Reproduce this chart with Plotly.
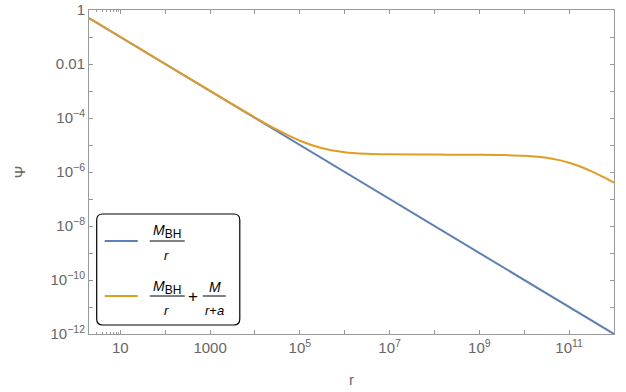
import plotly.graph_objects as go

# ---------------- data ----------------
r_blue = [2, 10, 1e2, 1e3, 1e4, 1e5, 1e6, 1e7, 1e8, 1e9, 1e10, 1e11, 1e12]
psi_blue = [0.5, 0.1, 1e-2, 1e-3, 1e-4, 1e-5, 1e-6, 1e-7, 1e-8, 1e-9, 1e-10, 1e-11, 1e-12]

r_orange = [2, 10, 1e2, 1e3, 3.16e3, 1e4, 3.16e4, 1e5, 3.16e5, 1e6, 3.16e6, 1e7,
            1e8, 1e9, 3.16e9, 1e10, 2e10, 3.16e10, 6e10, 1e11, 2e11, 3.16e11, 6e11, 1e12]
psi_orange = [0.5, 0.1, 1.0e-2, 1.0044e-3, 3.21e-4, 1.044e-4, 3.60e-5, 1.44e-5, 7.56e-6,
              5.4e-6, 4.72e-6, 4.50e-6, 4.41e-6, 4.36e-6, 4.26e-6, 4.0e-6, 3.67e-6,
              3.34e-6, 2.75e-6, 2.2e-6, 1.47e-6, 1.06e-6, 6.3e-7, 4.0e-7]

x_tickvals = [10, 100, 1e3, 1e4, 1e5, 1e6, 1e7, 1e8, 1e9, 1e10, 1e11]
x_ticktext = ["10", "", "1000", "", "10<sup>5</sup>", "", "10<sup>7</sup>", "",
              "10<sup>9</sup>", "", "10<sup>11</sup>"]
x_minor = [2, 3, 4, 5, 6, 7, 8, 9]
y_tickvals = [1, 0.1, 0.01, 1e-3, 1e-4, 1e-5, 1e-6, 1e-7, 1e-8, 1e-9, 1e-10, 1e-11, 1e-12]
y_ticktext = ["1", "", "0.01", "", "10<sup>−4</sup>", "", "10<sup>−6</sup>", "",
              "10<sup>−8</sup>", "", "10<sup>−10</sup>", "", "10<sup>−12</sup>"]

BLUE = "#5E81B5"
ORANGE = "#E19C24"
FRAME = "#9a9a9a"
LABEL = "#666666"
FONT = "Liberation Sans, Arial, sans-serif"

fig = go.Figure()
fig.add_trace(go.Scatter(x=r_blue, y=psi_blue, mode="lines",
                         line=dict(color=BLUE, width=2), showlegend=False))
fig.add_trace(go.Scatter(x=r_orange, y=psi_orange, mode="lines", line_shape="spline",
                         line=dict(color=ORANGE, width=2), showlegend=False))

# plot area in pixels
L, R, T, B = 89.3, 614.0, 10.0, 334.0
W, H = 626, 392


def px(x):
    return (x - L) / (R - L)


def py(y):
    return (B - y) / (B - T)


axis_common = dict(type="log", showgrid=False, zeroline=False, showline=True,
                   linecolor=FRAME, linewidth=1, mirror="allticks", ticks="inside",
                   ticklen=4, tickcolor=FRAME, tickwidth=1, automargin=False,
                   tickfont=dict(family=FONT, size=15, color=LABEL),
                   title_font=dict(family=FONT, size=15, color=LABEL))

fig.update_xaxes(**axis_common, range=[0.301, 12], tickmode="array",
                 tickvals=x_tickvals, ticktext=x_ticktext,
                 minor=dict(tickmode="array", tickvals=x_minor, ticks="inside",
                            ticklen=2, tickcolor=FRAME, tickwidth=1),
                 title_text="r", title_standoff=19)
fig.update_yaxes(**axis_common, range=[-12, 0], tickmode="array",
                 tickvals=y_tickvals, ticktext=y_ticktext,
                 title_text="Ψ", title_standoff=21)

# ---------------- custom legend ----------------
shapes = []
x0, x1, y0, y1, rad = 97, 240, 214, 325, 6
rx = rad / (R - L)
ry = rad / (B - T)
X0, X1, Y0, Y1 = px(x0), px(x1), py(y1), py(y0)
path = (f"M {X0+rx},{Y0} L {X1-rx},{Y0} Q {X1},{Y0} {X1},{Y0+ry} "
        f"L {X1},{Y1-ry} Q {X1},{Y1} {X1-rx},{Y1} L {X0+rx},{Y1} "
        f"Q {X0},{Y1} {X0},{Y1-ry} L {X0},{Y0+ry} Q {X0},{Y0} {X0+rx},{Y0} Z")
shapes.append(dict(type="path", xref="paper", yref="paper", path=path,
                   line=dict(color="black", width=1.2), fillcolor="white", layer="above"))


def hline(xa, xb, y, color, width):
    shapes.append(dict(type="line", xref="paper", yref="paper",
                       x0=px(xa), x1=px(xb), y0=py(y), y1=py(y),
                       line=dict(color=color, width=width), layer="above"))


hline(105, 138, 241, BLUE, 2.2)
hline(105, 138, 296, ORANGE, 2.2)
hline(150, 185, 241, "black", 1)
hline(150, 185, 296, "black", 1)
hline(203, 226, 296, "black", 1)

annotations = []


def txt(x, y, s, size=14):
    annotations.append(dict(x=px(x), y=py(y), xref="paper", yref="paper", text=s,
                            showarrow=False, xanchor="center", yanchor="middle",
                            font=dict(family=FONT, size=size, color="black")))


MBH = "<i>M</i><sub><span style='font-size:12px'>BH</span></sub>"
txt(167.5, 232, MBH)
txt(167, 255.5, "<i>r</i>", 13)
txt(167.5, 287, MBH)
txt(167, 310.5, "<i>r</i>", 13)
txt(193, 296, "+", 17)
txt(215, 287, "<i>M</i>", 14)
txt(214.5, 310.5, "<i>r</i>+<i>a</i>", 13)

fig.update_layout(width=W, height=H, margin=dict(l=L, r=W - R, t=T, b=H - B),
                  paper_bgcolor="white", plot_bgcolor="white",
                  shapes=shapes, annotations=annotations, showlegend=False)

fig.write_html("out.html")
